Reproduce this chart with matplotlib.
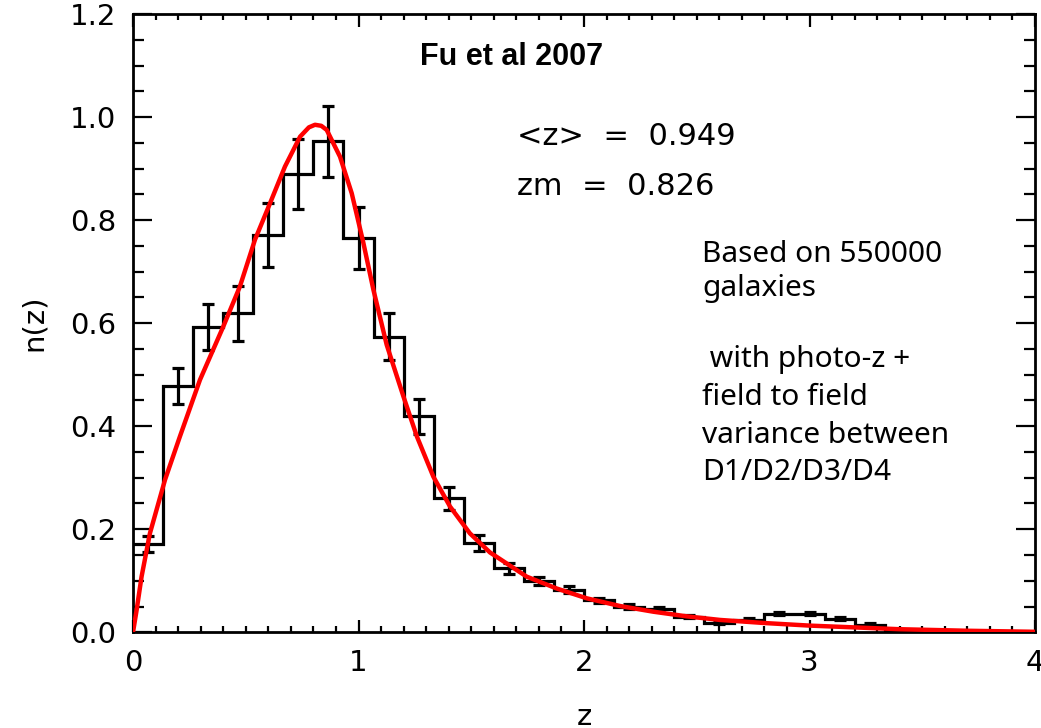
import numpy as np
import matplotlib
matplotlib.use('Agg')
import matplotlib.pyplot as plt
from matplotlib.ticker import MultipleLocator, FormatStrFormatter

plt.rcParams['font.family'] = ['DejaVu Sans']

# histogram of n(z), 30 bins between z=0 and z=4
bin_edges = np.linspace(0.0, 4.0, 31)
nz_hist = [0.171, 0.478, 0.593, 0.619, 0.771, 0.889, 0.953, 0.765, 0.574, 0.419,
           0.260, 0.173, 0.124, 0.100, 0.083, 0.062, 0.050, 0.045, 0.030, 0.019,
           0.024, 0.036, 0.036, 0.026, 0.015, 0.003, 0.002, 0.001, 0.001, 0.000]
nz_err = [0.016, 0.034, 0.045, 0.054, 0.062, 0.068, 0.069, 0.060, 0.046, 0.034,
          0.022, 0.016, 0.011, 0.008, 0.006, 0.005, 0.004, 0.004, 0.003, 0.003,
          0.003, 0.003, 0.003, 0.003, 0.003, 0.002, 0.002, 0.001, 0.001, 0.001]

# fitted curve (red)
fit_z = [0.0, 0.016, 0.038, 0.075, 0.142, 0.208, 0.297, 0.400, 0.474, 0.541,
         0.608, 0.674, 0.741, 0.780, 0.807, 0.835, 0.859, 0.918, 0.970, 1.021,
         1.066, 1.125, 1.199, 1.259, 1.332, 1.406, 1.494, 1.583, 1.746, 1.879,
         2.012, 2.160, 2.307, 2.455, 2.603, 2.800, 3.000, 3.400, 3.700, 4.000]
fit_n = [0.000, 0.043, 0.108, 0.192, 0.296, 0.380, 0.490, 0.593, 0.671, 0.762,
         0.833, 0.904, 0.962, 0.980, 0.985, 0.983, 0.975, 0.923, 0.852, 0.757,
         0.665, 0.558, 0.458, 0.380, 0.302, 0.244, 0.192, 0.155, 0.108, 0.085,
         0.066, 0.051, 0.040, 0.031, 0.024, 0.018, 0.013, 0.006, 0.003, 0.001]

W, H = 1041, 728
fig = plt.figure(figsize=(W / 100, H / 100), dpi=100)
ax = fig.add_axes([133 / W, 1 - 632.3 / H, 902 / W, 618.3 / H])

centres = 0.5 * (bin_edges[:-1] + bin_edges[1:])
ax.stairs(nz_hist, bin_edges, color='black', lw=2.3, baseline=None, zorder=2)
ax.errorbar(centres, nz_hist, yerr=nz_err, fmt='none', ecolor='black',
            elinewidth=2.3, capsize=4.5, capthick=2.3, zorder=2)
ax.plot(fit_z, fit_n, color='#ff0000', lw=3.2, zorder=3)

ax.set_xlim(0, 4)
ax.set_ylim(0, 1.2)
ax.xaxis.set_major_locator(MultipleLocator(1))
ax.xaxis.set_minor_locator(MultipleLocator(0.1))
ax.yaxis.set_major_locator(MultipleLocator(0.2))
ax.yaxis.set_minor_locator(MultipleLocator(0.05))
ax.xaxis.set_major_formatter(FormatStrFormatter('%d'))
ax.yaxis.set_major_formatter(FormatStrFormatter('%.1f'))

for side in ax.spines.values():
    side.set_linewidth(2.0)
ax.tick_params(axis='both', which='both', direction='in', top=True, right=True, width=1.6)
ax.tick_params(axis='x', which='major', length=9, pad=12, labelsize=21)
ax.tick_params(axis='x', which='minor', length=4.5)
ax.tick_params(axis='y', which='major', length=14, pad=12, labelsize=21)
ax.tick_params(axis='y', which='minor', length=8)

ax.set_xlabel('z', fontsize=21, labelpad=19)
ax.set_ylabel('n(z)', fontsize=21, labelpad=16)

ax.text(0.318, 0.9175, 'Fu et al 2007', transform=ax.transAxes, fontsize=22,
        fontweight='bold', family='Liberation Sans', va='baseline')
ax.text(0.4257, 0.788, '<z>  =  0.949', transform=ax.transAxes, fontsize=22, va='baseline')
ax.text(0.4257, 0.7076, 'zm  =  0.826', transform=ax.transAxes, fontsize=22, va='baseline')

note_lines = ['Based on 550000', 'galaxies', ' with photo-z +', 'field to field',
              'variance between', 'D1/D2/D3/D4']
note_y = [0.599, 0.544, 0.4295, 0.368, 0.3066, 0.2467]
for txt, yy in zip(note_lines, note_y):
    ax.text(0.631, yy, txt, transform=ax.transAxes, fontsize=21.5,
            family='Noto Sans', va='baseline')

fig.savefig('out.png', dpi=100)
